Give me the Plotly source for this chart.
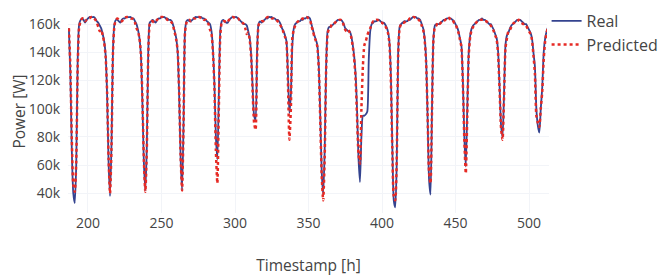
import plotly.graph_objects as go

timestamps = list(range(187, 515))

real_kw = [
    157, 125, 70, 40, 33, 60, 135, 160,
    163, 164, 163, 161, 163, 164, 165, 165, 165, 165, 164, 162, 161, 159, 157, 153, 148, 138, 110, 62, 38, 75, 142, 160,
    163, 163, 162, 161, 163, 164, 164, 165, 165, 165, 165, 164, 164, 162, 160, 156, 150, 138, 105, 62, 42, 72, 140, 161,
    162, 163, 162, 161, 163, 164, 164, 165, 165, 165, 164, 164, 163, 163, 162, 159, 155, 150, 140, 110, 65, 42, 90, 155,
    162, 163, 162, 162, 163, 164, 165, 165, 165, 165, 165, 164, 164, 163, 162, 161, 160, 155, 142, 118, 80, 64, 110, 155,
    162, 163, 162, 161, 161, 163, 164, 165, 165, 165, 165, 164, 163, 162, 161, 160, 160, 159, 155, 150, 138, 115, 95, 92,
    140, 160, 162, 161, 162, 163, 164, 164, 165, 165, 165, 164, 164, 163, 163, 162, 160, 157, 155, 152, 148, 125, 97, 110,
    145, 157, 160, 161, 162, 162, 163, 163, 164, 164, 165, 165, 164, 160, 156, 152, 149, 145, 130, 95, 55, 39, 70, 130,
    155, 158, 158, 159, 160, 161, 162, 163, 163, 163, 162, 160, 157, 156, 155, 155, 152, 146, 138, 125, 100, 65, 48, 80,
    95, 95, 96, 98, 135, 155, 160, 161, 162, 162, 163, 163, 162, 161, 161, 160, 158, 155, 148, 125, 75, 35, 30, 60,
    140, 158, 160, 161, 162, 162, 162, 163, 163, 164, 165, 165, 165, 164, 164, 163, 160, 157, 150, 135, 95, 50, 39, 100,
    150, 159, 160, 160, 160, 161, 162, 163, 163, 164, 164, 164, 164, 163, 162, 160, 158, 155, 150, 145, 120, 80, 59, 100,
    140, 152, 157, 159, 160, 161, 162, 163, 163, 164, 163, 163, 162, 161, 160, 160, 158, 156, 153, 150, 140, 115, 88, 80,
    110, 145, 152, 154, 157, 159, 160, 161, 162, 163, 163, 163, 162, 161, 160, 160, 158, 156, 154, 150, 140, 130, 100, 88,
    83, 100, 115, 140, 150, 155, 158, 161,
]

predicted_kw = [
    157, 130, 78, 46, 41, 62, 130, 158,
    162, 164, 164, 162, 163, 164, 164, 165, 165, 164, 163, 161, 158, 155, 156, 152, 147, 137, 112, 65, 40, 72, 140, 159,
    163, 164, 163, 162, 162, 163, 164, 165, 165, 165, 164, 164, 163, 161, 157, 155, 150, 139, 108, 64, 41, 70, 138, 160,
    162, 162, 161, 162, 163, 164, 165, 165, 165, 164, 164, 163, 163, 162, 161, 158, 154, 149, 141, 112, 67, 42, 88, 154,
    161, 163, 163, 162, 163, 164, 164, 165, 165, 165, 164, 164, 163, 163, 161, 160, 156, 153, 140, 115, 70, 47, 100, 152,
    161, 162, 162, 161, 162, 163, 164, 165, 165, 164, 164, 164, 163, 162, 161, 160, 157, 153, 154, 149, 137, 112, 90, 85,
    135, 159, 161, 162, 162, 163, 164, 165, 165, 165, 164, 164, 163, 163, 162, 161, 159, 157, 154, 151, 147, 120, 78, 100,
    150, 156, 159, 161, 162, 163, 163, 164, 164, 165, 165, 164, 163, 159, 155, 151, 148, 144, 128, 92, 52, 35, 65, 128,
    153, 157, 158, 160, 160, 161, 162, 162, 163, 163, 162, 159, 156, 155, 156, 154, 151, 145, 136, 122, 95, 68, 61, 100,
    130, 145, 148, 152, 155, 157, 160, 162, 162, 163, 163, 162, 161, 161, 160, 159, 157, 154, 147, 122, 72, 38, 35, 62,
    138, 157, 160, 161, 161, 162, 163, 163, 164, 164, 165, 165, 164, 164, 163, 162, 159, 156, 149, 133, 97, 55, 47, 98,
    149, 158, 159, 161, 160, 161, 162, 162, 163, 164, 165, 164, 163, 163, 161, 160, 157, 154, 149, 144, 118, 78, 54, 95,
    138, 151, 156, 158, 160, 161, 162, 162, 163, 163, 163, 162, 162, 161, 160, 159, 157, 155, 152, 149, 138, 113, 86, 78,
    108, 143, 150, 155, 156, 158, 160, 161, 162, 162, 163, 162, 161, 160, 160, 159, 157, 155, 153, 149, 138, 125, 95, 90,
    87, 100, 112, 135, 148, 154, 158, 160,
]

real_w = [v * 1000 for v in real_kw]
predicted_w = [v * 1000 for v in predicted_kw]

fig = go.Figure()
fig.add_trace(go.Scatter(
    x=timestamps, y=real_w, mode="lines", name="Real",
    line=dict(color="#34438f", width=1.8, shape="spline", smoothing=0.6),
))
fig.add_trace(go.Scatter(
    x=timestamps, y=predicted_w, mode="lines", name="Predicted",
    line=dict(color="#e62a24", width=2.5, dash="dot", shape="spline", smoothing=0.6),
))

# page body adds an 8px offset, so the figure is sized to fit inside the window
fig.update_layout(
    template="plotly_white",
    width=663, height=270,
    margin=dict(l=60, r=122, t=2, b=65, autoexpand=False),
    font=dict(family="Open Sans", size=14, color="#444"),
    legend=dict(x=0.995, y=1.03, xanchor="left", yanchor="top", font=dict(size=16)),
    xaxis=dict(
        title=dict(text="Timestamp [h]", font=dict(size=15.5), standoff=29),
        range=[186.4, 513.6],
        tickvals=[200, 250, 300, 350, 400, 450, 500],
        showgrid=True, gridcolor="#f2f4f8", zeroline=False,
        automargin=False,
    ),
    yaxis=dict(
        title=dict(text="Power [W]", font=dict(size=15.5), standoff=3),
        range=[26000, 170000],
        tickvals=[40000, 60000, 80000, 100000, 120000, 140000, 160000],
        ticktext=["40k", "60k", "80k", "100k", "120k", "140k", "160k"],
        ticks="outside", ticklen=4, tickcolor="rgba(0,0,0,0)",
        showgrid=True, gridcolor="#f2f4f8", zeroline=False,
        automargin=False,
    ),
)

fig.write_html("out.html")
